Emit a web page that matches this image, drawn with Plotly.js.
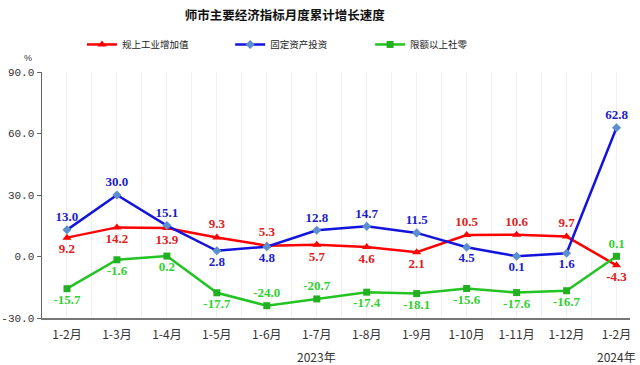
<!DOCTYPE html>
<html><head><meta charset="utf-8">
<script src="https://cdn.plot.ly/plotly-3.0.1.min.js"></script>
<style>body{margin:0;background:#fff}#c{width:640px;height:365px}</style>
</head><body><div id="c"></div>
<script>
const categories = ['1-2月','1-3月','1-4月','1-5月','1-6月','1-7月','1-8月','1-9月','1-10月','1-11月','1-12月','1-2月'];
const industry = [9.2, 14.2, 13.9, 9.3, 5.3, 5.7, 4.6, 2.1, 10.5, 10.6, 9.7, -4.3];
const investment = [13.0, 30.0, 15.1, 2.8, 4.8, 12.8, 14.7, 11.5, 4.5, 0.1, 1.6, 62.8];
const retail = [-15.7, -1.6, 0.2, -17.7, -24.0, -20.7, -17.4, -18.1, -15.6, -17.6, -16.7, 0.1];
const seriesNames = ['规上工业增加值','固定资产投资','限额以上社零'];
const yTicks = [-30, 0, 30, 60, 90];
const yearLabels = ['2023年','2024年'];

const xs = categories.map((c,i)=>i);
const T='top center', B='bottom center';
const industryPos = [B,B,B,T,T,B,B,B,T,T,T,B];
const investmentPos = [T,T,T,B,B,T,T,T,B,B,B,T];
const retailPos = [B,B,B,B,T,T,B,B,B,B,B,T];
const lblFont = (c)=>({family:'Liberation Serif, DejaVu Serif, serif', size:13, color:c, weight:'bold'});

const traces = [
 {x:xs, y:industry, name:seriesNames[0], legend:'legend', mode:'lines+markers+text', text:industry.map(v=>v.toFixed(1)), textposition:industryPos,
  textfont:lblFont('#e02020'), line:{color:'#ff0000', width:2.5}, marker:{symbol:'triangle-up', size:8, color:'#ff0000'}, cliponaxis:false},
 {x:xs, y:investment, name:seriesNames[1], legend:'legend2', mode:'lines+markers+text', text:investment.map(v=>v.toFixed(1)), textposition:investmentPos,
  textfont:lblFont('#1c1cc8'), line:{color:'#1414dc', width:2.5}, marker:{symbol:'diamond', size:7, color:'#5b8fd0'}, cliponaxis:false},
 {x:xs, y:retail, name:seriesNames[2], legend:'legend3', mode:'lines+markers+text', text:retail.map(v=>v.toFixed(1)), textposition:retailPos,
  textfont:lblFont('#33d033'), line:{color:'#22c322', width:2.5}, marker:{symbol:'square', size:7, color:'#22b022'}, cliponaxis:false}
];

const legFont = {family:'Noto Sans CJK SC', size:9.5, color:'#222'};
const mkLeg = (x)=>({orientation:'h', x:x, xanchor:'left', y:1.112, yanchor:'middle', font:legFont, itemwidth:30, bgcolor:'rgba(0,0,0,0)'});

const layout = {
 width:640, height:365, margin:{l:42, r:10, t:72, b:46.5},
 paper_bgcolor:'#fff', plot_bgcolor:'#fff',
 title:{text:'师市主要经济指标月度累计增长速度', x:0.445, xanchor:'center', y:0.958, yanchor:'middle', font:{family:'Noto Sans CJK SC', size:12.5, color:'#111', weight:'bold'}},
 showlegend:true,
 legend:mkLeg(0.068), legend2:mkLeg(0.32), legend3:mkLeg(0.558),
 xaxis:{range:[-0.5, 11.27], tickvals:xs, ticktext:categories, showgrid:true, gridcolor:'#f0f0f0', gridwidth:1,
   minor:{dtick:0.5, tick0:-0.5, showgrid:true, gridcolor:'#f0f0f0'},
   showline:true, linecolor:'#777', linewidth:2, ticks:'', zeroline:false, ticklabelstandoff:5,
   tickfont:{family:'Noto Sans CJK SC', size:12, color:'#333'}},
 yaxis:{range:[-30, 90], tickvals:yTicks, ticktext:yTicks.map(v=>v.toFixed(1)), showgrid:false, zeroline:false,
   showline:true, linecolor:'#666', linewidth:1.5, ticks:'outside', ticklen:4, tickcolor:'#666',
   tickfont:{family:'Liberation Mono, DejaVu Sans Mono, monospace', size:11, color:'#333'}},
 annotations:[
  {text:'%', xref:'paper', yref:'paper', x:-0.024, y:1.057, xanchor:'center', yanchor:'middle', showarrow:false, font:{family:'Liberation Sans', size:9, color:'#333'}},
  {text:yearLabels[0], xref:'x', yref:'paper', x:5, y:-0.155, yanchor:'middle', showarrow:false, font:{family:'Noto Sans CJK SC', size:12, color:'#333'}},
  {text:yearLabels[1], xref:'x', yref:'paper', x:11, y:-0.155, yanchor:'middle', showarrow:false, font:{family:'Noto Sans CJK SC', size:12, color:'#333'}}
 ]
};
Plotly.newPlot('c', traces, layout, {displayModeBar:false, staticPlot:true});
</script></body></html>
